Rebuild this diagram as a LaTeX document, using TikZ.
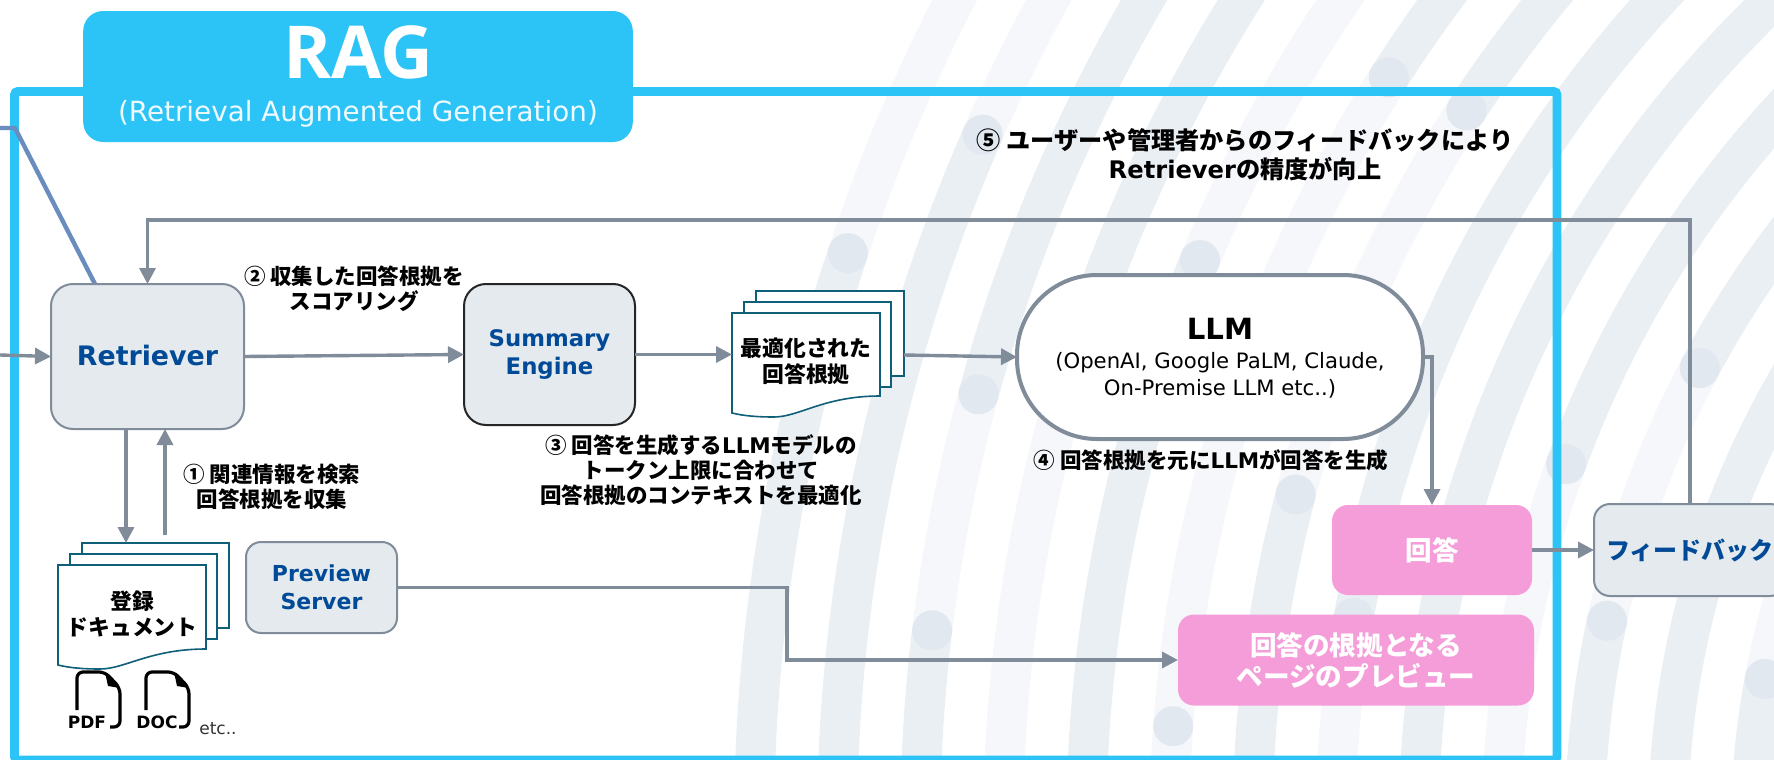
\documentclass[tikz,border=0pt]{standalone}
\usepackage{fontspec}
\setmainfont{DejaVu Sans}
\newfontfamily\jp{Noto Sans CJK JP}
\newfontfamily\opn{Open Sans}
\usetikzlibrary{arrows.meta,calc}
\definecolor{bandD}{HTML}{EAEFF4}
\definecolor{bandF}{HTML}{F5F7FA}
\definecolor{dotc}{HTML}{E1E8EF}
\definecolor{frameblue}{HTML}{2CC4F6}
\definecolor{gline}{HTML}{808C9A}
\definecolor{gfill}{HTML}{E4EAEE}
\definecolor{nblue}{HTML}{004A97}
\definecolor{pinkb}{HTML}{F49DD9}
\definecolor{sheet}{HTML}{0F5F78}
\definecolor{linkb}{HTML}{6A8CBE}
\newcommand\fs[2]{\fontsize{#1pt}{#2pt}\selectfont}
\newcommand\la[1]{{\rmfamily\bfseries #1}}
\newcommand\bandseg[4]{%
  \pgfmathsetmacro\rr{(1809-83.08*#1)*0.5}%
  \draw[line width=20pt,color=#4] (bc) ++(#2:\rr pt) arc[start angle=#2,end angle=#3,radius=\rr pt];}
\newcommand\banddot[2]{%
  \pgfmathsetmacro\rr{(1809-83.08*#1)*0.5}%
  \fill[dotc] (bc) ++(#2:\rr pt) circle[radius=10pt];}
\tikzset{
  base/.style={inner sep=0pt,outer sep=0pt,align=center},
  graybox/.style={base,draw=gline,line width=1pt,fill=gfill,text=nblue,font=\bfseries\fs{11.4}{14}},
  pinkbox/.style={base,fill=pinkb,rounded corners=8pt,text=white,font=\jp\bfseries\fs{13.3}{15.5}},
  lbl/.style={base,text=black,font=\jp\bfseries\fs{10.75}{12.6}},
  arr/.style={draw=gline,line width=1.7pt,-{Triangle[length=8pt,width=8pt]}},
  sheetback/.style={draw=sheet,line width=0.8pt,fill=white},
  filepath/.style={draw=black,line width=1.6pt,rounded corners=3pt}
}
\begin{document}
\begin{tikzpicture}[x=0.5pt,y=-0.5pt]
\useasboundingbox (0,0) rectangle (1774,760);
\clip (0,0) rectangle (1774,760);
\fill[white] (0,0) rectangle (1774,760);
\coordinate (bc) at (2563,828);
% background arcs
\bandseg{0}{100}{161.47}{bandF}\bandseg{0}{161.47}{180}{bandD}
\bandseg{1}{100}{156.31}{bandF}\bandseg{1}{156.31}{180}{bandD}
\bandseg{2}{100}{164.69}{bandD}\bandseg{2}{164.69}{173.09}{bandF}\bandseg{2}{173.09}{180}{bandD}
\bandseg{3}{100}{162.37}{bandD}\bandseg{3}{162.37}{180}{bandF}
\bandseg{4}{100}{157.38}{bandF}\bandseg{4}{157.38}{180}{bandD}
\bandseg{5}{100}{147.41}{bandD}\bandseg{5}{147.41}{180}{bandF}
\bandseg{6}{100}{146.8}{bandD}\bandseg{6}{146.8}{165.26}{bandF}\bandseg{6}{165.26}{180}{bandD}
\bandseg{7}{100}{170.14}{bandD}\bandseg{7}{170.14}{180}{bandF}
\bandseg{8}{100}{180}{bandD}
\bandseg{9}{100}{159.95}{bandD}\bandseg{9}{159.95}{180}{bandF}
\bandseg{10}{100}{151.95}{bandD}\bandseg{10}{151.95}{167.77}{bandF}\bandseg{10}{167.77}{180}{bandD}
\bandseg{11}{100}{180}{bandD}
\bandseg{12}{100}{169.42}{bandF}\bandseg{12}{169.42}{180}{bandD}
\bandseg{13}{100}{180}{bandD}
\bandseg{14}{100}{180}{bandD}
\banddot{0}{161.47}\banddot{1}{156.31}\banddot{2}{164.69}\banddot{2}{173.09}
\banddot{4}{157.38}\banddot{5}{147.41}\banddot{5}{175.81}\banddot{6}{146.8}\banddot{6}{165.26}
\banddot{7}{170.14}\banddot{9}{159.95}\banddot{10}{151.95}\banddot{10}{167.77}\banddot{12}{169.42}
% frame
\draw[frameblue,line width=4.3pt,rounded corners=1.5pt] (14.5,91.5) rectangle (1557,760);
\node[base,fill=frameblue,rounded corners=10pt,minimum width=274.8pt,minimum height=65.5pt] (tab) at (358,76.5) {};
\node[base,text=white,font=\opn\bfseries\fs{36.5}{36.5}] (ragt) at (358,52) {RAG};
\node[base,text=white!92!frameblue,font=\fs{13.9}{16}] (ragsub) at (358,114) {(Retrieval Augmented Generation)};
% free-end coordinates
\coordinate (linkA) at (0,128);
\coordinate (linkB) at (15,128);
\coordinate (linkC) at (95,284);
\coordinate (leftin) at (0,355);
\coordinate (fbcorner) at (147.5,220);
\coordinate (prevbend) at (787,600);
\coordinate (dnx) at (126,543);
\coordinate (upx) at (165,535);
% link line behind Retriever
\draw[linkb,line width=2.2pt,line join=round] (linkA) -- (linkB) -- (linkC);
% main nodes
\node[graybox,rounded corners=11pt,minimum width=96.5pt,minimum height=72.5pt,font=\bfseries\fs{13.4}{16}] (ret) at (147.5,356.5) {\raisebox{1pt}{Retriever}};
\node[graybox,draw=black!85,rounded corners=11pt,minimum width=85.5pt,minimum height=70.5pt] (sum) at (549.5,354.5) {Summary\\Engine};
\node[graybox,rounded corners=7.5pt,minimum width=75.5pt,minimum height=45.5pt,font=\bfseries\fs{11}{14}] (prev) at (321.5,587.5) {Preview\\Server};
\node[base,draw=gline,line width=2pt,fill=white,rounded corners=40pt,minimum width=203pt,minimum height=82pt] (llm) at (1220,357) {};
\node[base,font=\bfseries\fs{14.6}{16}] (llmt) at (1220,329) {LLM};
\node[base,font=\fs{10.6}{13.5}] (llms) at (1220,375.5) {(OpenAI, Google PaLM, Claude,\\On-Premise LLM etc..)};
\node[pinkbox,minimum width=100pt,minimum height=45pt] (ans) at (1432,550) {回答};
\node[pinkbox,minimum width=178pt,minimum height=45.5pt] (ans2) at (1356,660) {回答の根拠となる\\ページのプレビュー};
\node[graybox,rounded corners=8pt,minimum width=96pt,minimum height=46pt,font=\jp\bfseries\fs{12}{14}] (fb) at (1690,550) {フィードバック};
% optimized-evidence stack
\draw[sheetback] (756,291) rectangle (904,376);
\draw[sheetback] (744,302) rectangle (891,387);
\draw[sheetback] (732,313) -- (880,313) -- (880,396) .. controls (824,396) and (799,417) .. (774,417) .. controls (758,417) and (744,416) .. (732,413) -- cycle;
\node[base,minimum width=74pt,minimum height=41.5pt,text=black,font=\jp\bfseries\fs{10.9}{13}] (opt) at (806,361.5) {最適化された\\回答根拠};
\node[base,minimum width=74pt,minimum height=42.5pt] (optback) at (830,355) {};
% registered-document stack
\draw[sheetback] (82,543) rectangle (229,628);
\draw[sheetback] (70,554) rectangle (217,639);
\draw[sheetback] (58,565) -- (206,565) -- (206,649) .. controls (150,649) and (125,669) .. (100,669) .. controls (84,669) and (70,668) .. (58,665) -- cycle;
\node[base,text=black,font=\jp\bfseries\fs{10.9}{13}] (reg) at (132,614) {登録\\ドキュメント};
% file icons
\draw[filepath] (77,710) -- (77,672) -- (105,672) -- (120,688) -- (120,727) -- (110,727);
\fill[black] (105,672) -- (120,688) -- (108,686) -- cycle;
\node[base,font=\bfseries\fs{8.5}{10}] (pdf) at (87,722) {PDF};
\draw[filepath] (146,710) -- (146,672) -- (174,672) -- (189,688) -- (189,727) -- (179,727);
\fill[black] (174,672) -- (189,688) -- (177,686) -- cycle;
\node[base,font=\bfseries\fs{8.5}{10}] (docl) at (157,722) {DOC};
\node[base,text=black!80,font=\fs{8.5}{10}] (etc) at (218,729) {etc..};
% connectors
\draw[arr] (leftin) -- (ret.west);
\draw[arr] (ret.east) -- (sum.west);
\draw[arr] (sum.east) -- (opt.west |- sum.east);
\draw[arr] (optback.east) -- (llm.west);
\draw[arr] (llm.east) -| (ans.north);
\draw[arr] (ans.east) -- (fb.west);
\draw[arr] (fb.north) |- (fbcorner) -- (ret.north);
\draw[arr] (ret.south -| dnx) -- (dnx);
\draw[arr] (upx) -- (ret.south -| upx);
\draw[arr] (prev.east) -| (prevbend) |- (ans2.west);
% labels
\node[lbl] (l1) at (272,487) {① 関連情報を検索\\回答根拠を収集};
\node[lbl] (l2) at (354,289) {② 収集した回答根拠を\\スコアリング};
\node[lbl] (l3) at (701,470) {③ 回答を生成する\la{LLM}モデルの\\トークン上限に合わせて\\回答根拠のコンテキストを最適化};
\node[lbl] (l4) at (1211,460) {④ 回答根拠を元に\la{LLM}が回答を生成};
\node[lbl,font=\jp\bfseries\fs{12.1}{14.5}] (l5) at (1245,155) {⑤ ユーザーや管理者からのフィードバックにより\\\la{Retriever}の精度が向上};
\end{tikzpicture}
\end{document}
